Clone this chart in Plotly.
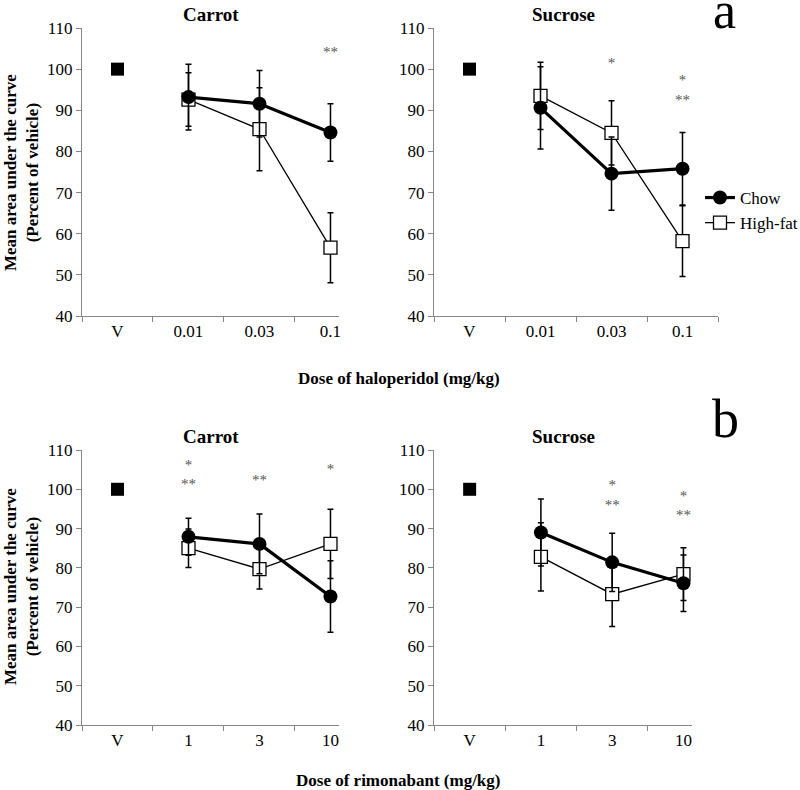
import plotly.graph_objects as go

# kategorie na osi x
halo_doses = ['V', '0.01', '0.03', '0.1']
rimo_doses = ['V', '1', '3', '10']

vehicle = [100]

# haloperidol - carrot
halo_carrot_chow = [None, 93.2, 91.6, 84.6]
halo_carrot_chow_err = [0, 8.0, 8.1, 7.0]
halo_carrot_hf = [None, 92.6, 85.4, 56.6]
halo_carrot_hf_err = [0, 6.5, 10.1, 8.5]
halo_carrot_stars = [None, None, None, '**']
halo_carrot_star_y = [None, None, None, 103.8]

# haloperidol - sucrose
halo_sucrose_chow = [None, 90.6, 74.6, 75.8]
halo_sucrose_chow_err = [0, 10.0, 8.9, 8.8]
halo_sucrose_hf = [None, 93.5, 84.5, 58.2]
halo_sucrose_hf_err = [0, 8.2, 7.8, 8.6]
halo_sucrose_stars = [None, None, '*', '*<br>**']
halo_sucrose_star_y = [None, None, 101.3, 94.6]

# rimonabant - carrot
rimo_carrot_chow = [None, 87.9, 86.1, 72.7]
rimo_carrot_chow_err = [0, 4.7, 7.6, 9.1]
rimo_carrot_hf = [None, 85.0, 79.7, 86.1]
rimo_carrot_hf_err = [0, 4.9, 5.1, 8.8]
rimo_carrot_stars = [None, '*<br>**', '**', '*']
rimo_carrot_star_y = [None, 103.5, 102.1, 104.9]

# rimonabant - sucrose
rimo_sucrose_chow = [None, 89.0, 81.4, 76.1]
rimo_sucrose_chow_err = [0, 8.5, 7.4, 7.2]
rimo_sucrose_hf = [None, 82.8, 73.3, 78.4]
rimo_sucrose_hf_err = [0, 8.7, 8.2, 6.7]
rimo_sucrose_stars = [None, None, '*<br>**', '*<br>**']
rimo_sucrose_star_y = [None, None, 98.2, 95.5]

SERIF = 'Liberation Serif'
W, H = 800, 790

# panely: (kategorie, chow, chow_err, hf, hf_err, hviezdicky, y hviezdiciek, nadpis, x px, y px, koniec rozsahu)
panels = [
    (halo_doses, halo_carrot_chow, halo_carrot_chow_err, halo_carrot_hf, halo_carrot_hf_err,
     halo_carrot_stars, halo_carrot_star_y, 'Carrot', (82, 339), (28, 316), 3.12),
    (halo_doses, halo_sucrose_chow, halo_sucrose_chow_err, halo_sucrose_hf, halo_sucrose_hf_err,
     halo_sucrose_stars, halo_sucrose_star_y, 'Sucrose', (434, 718), (28, 316), 3.5),
    (rimo_doses, rimo_carrot_chow, rimo_carrot_chow_err, rimo_carrot_hf, rimo_carrot_hf_err,
     rimo_carrot_stars, rimo_carrot_star_y, 'Carrot', (82, 339), (450, 725), 3.12),
    (rimo_doses, rimo_sucrose_chow, rimo_sucrose_chow_err, rimo_sucrose_hf, rimo_sucrose_hf_err,
     rimo_sucrose_stars, rimo_sucrose_star_y, 'Sucrose', (434, 692), (450, 725), 3.12),
]

fig = go.Figure()
annotations = []
layout_axes = {}


def note(text, xp, yp, size, angle=0):
    # text v pixeloch od laveho horneho rohu
    return dict(text=text, xref='paper', yref='paper', x=xp / W, y=1 - yp / H,
                xanchor='center', yanchor='middle', showarrow=False, textangle=angle,
                font=dict(family=SERIF, size=size, color='black'))


for i, (cats, chow, chow_e, hf, hf_e, stars, star_y, title, xpx, ypx, xend) in enumerate(panels, start=1):
    xa = 'x' if i == 1 else f'x{i}'
    ya = 'y' if i == 1 else f'y{i}'
    xkey = 'xaxis' if i == 1 else f'xaxis{i}'
    ykey = 'yaxis' if i == 1 else f'yaxis{i}'
    first = (i == 1)

    fig.add_trace(go.Scatter(x=cats, y=hf, xaxis=xa, yaxis=ya, name='High-fat', showlegend=first,
                             mode='lines+markers', line=dict(color='black', width=1.3),
                             marker=dict(symbol='square', size=13, color='white',
                                         line=dict(color='black', width=1.3)),
                             error_y=dict(type='data', array=hf_e, color='black', thickness=1.5, width=3),
                             legendrank=2))
    fig.add_trace(go.Scatter(x=cats, y=chow, xaxis=xa, yaxis=ya, name='Chow', showlegend=first,
                             mode='lines+markers', line=dict(color='black', width=3.2),
                             marker=dict(symbol='circle', size=14, color='black'),
                             error_y=dict(type='data', array=chow_e, color='black', thickness=1.5, width=3),
                             legendrank=1))
    fig.add_trace(go.Scatter(x=cats[:1], y=vehicle, xaxis=xa, yaxis=ya, showlegend=False,
                             mode='markers', marker=dict(symbol='square', size=13, color='black')))
    fig.add_trace(go.Scatter(x=cats, y=star_y, xaxis=xa, yaxis=ya, showlegend=False,
                             mode='text', text=stars,
                             textfont=dict(family=SERIF, size=15, color='#555555')))

    layout_axes[xkey] = dict(domain=[xpx[0] / W, xpx[1] / W], anchor=ya, type='category',
                             categoryorder='array', categoryarray=cats,
                             range=[-0.5, xend], tickson='boundaries', ticks='outside', ticklen=5,
                             tickcolor='#868686', showline=True, linecolor='#868686', linewidth=1,
                             showgrid=False, zeroline=False,
                             tickfont=dict(family=SERIF, size=17, color='black'))
    layout_axes[ykey] = dict(domain=[1 - ypx[1] / H, 1 - ypx[0] / H], anchor=xa,
                             range=[40, 110], dtick=10, ticks='outside', ticklen=5,
                             tickcolor='#868686', showline=True, linecolor='#868686', linewidth=1,
                             showgrid=False, zeroline=False,
                             tickfont=dict(family=SERIF, size=17, color='black'))

    annotations.append(note(f'<b>{title}</b>', xpx[0] + 129, ypx[0] - 13, 19))

# popisy osi
for yc in [173, 587]:
    annotations.append(note('<b>Mean area under the curve<br>(Percent of vehicle)</b>', 21, yc, 17, -90))
annotations.append(note('<b>Dose of haloperidol (mg/kg)</b>', 399, 378, 17))
annotations.append(note('<b>Dose of rimonabant (mg/kg)</b>', 398, 780, 17))
annotations.append(note('a', 724, 11, 52))
annotations.append(note('b', 725, 419, 54))

# autoexpand=False, inak legenda roztiahne okraje a cely graf sa zmensi
fig.update_layout(width=W, height=H, margin=dict(l=0, r=0, t=0, b=0, autoexpand=False),
                  paper_bgcolor='white', plot_bgcolor='white',
                  annotations=annotations,
                  legend=dict(x=700 / W, y=1 - 180 / H, xanchor='left', yanchor='top',
                              font=dict(family=SERIF, size=17, color='black'),
                              bgcolor='rgba(0,0,0,0)', tracegroupgap=0, itemwidth=30),
                  **layout_axes)

# bez okrajov stranky, nech je graf presne 800x790
fig.write_html('out.html', post_script="document.body.style.margin='0';",
               config={'displayModeBar': False})
